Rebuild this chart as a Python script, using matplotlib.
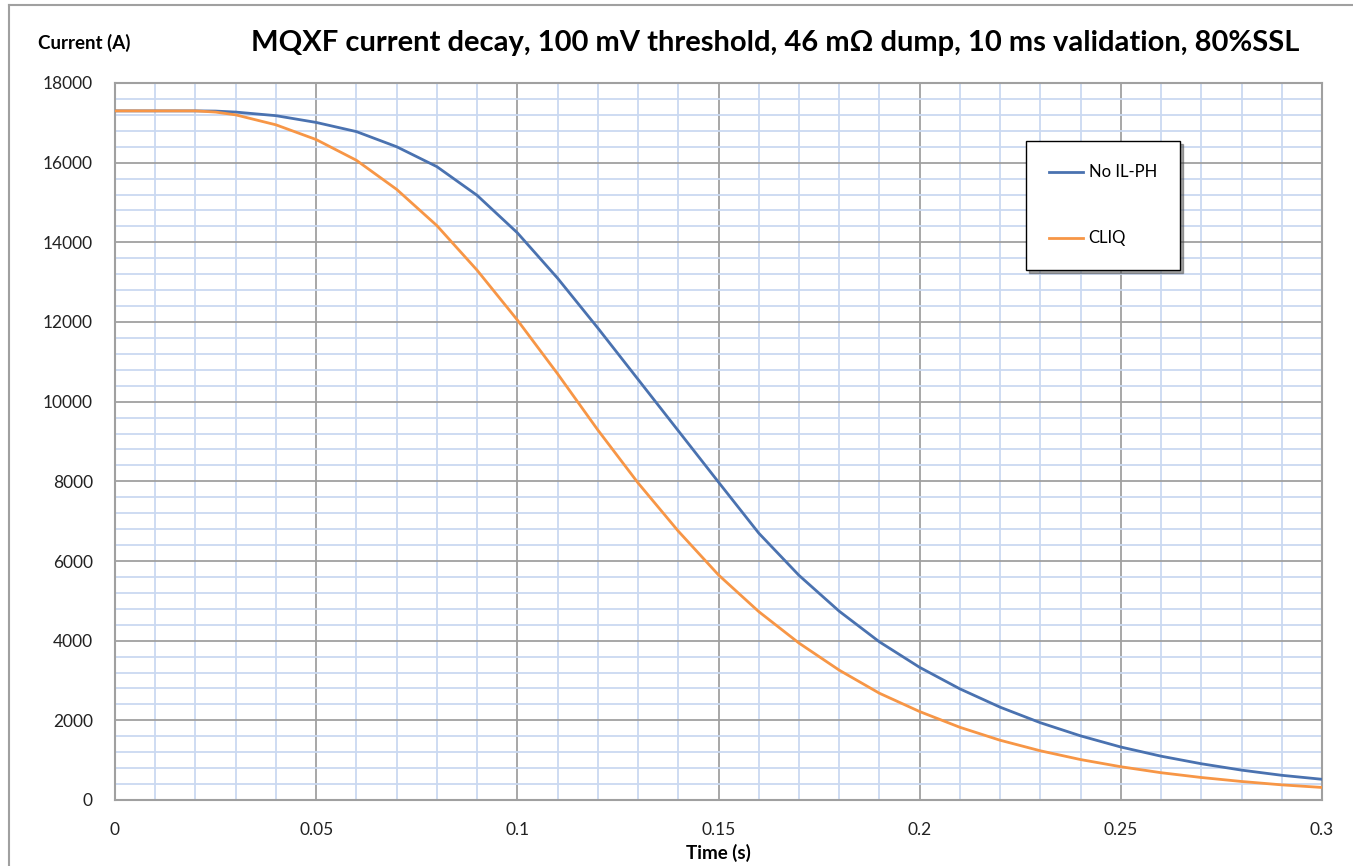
import numpy as np
import matplotlib
matplotlib.use("Agg")
import matplotlib.pyplot as plt
from matplotlib.ticker import MultipleLocator
from matplotlib.lines import Line2D

plt.rcParams['font.family'] = ['Lato', 'DejaVu Sans']

# values
time_s = [0.00, 0.01, 0.02, 0.025, 0.03, 0.04, 0.05, 0.06, 0.07, 0.08, 0.09,
          0.10, 0.11, 0.12, 0.13, 0.14, 0.15, 0.16, 0.17, 0.18, 0.19,
          0.20, 0.21, 0.22, 0.23, 0.24, 0.25, 0.26, 0.27, 0.28, 0.29, 0.30]
no_il_ph = [17300, 17300, 17300, 17295, 17270, 17180, 17010, 16780, 16400, 15900, 15180,
            14240, 13100, 11850, 10560, 9270, 7980, 6700, 5640, 4740, 3970,
            3330, 2790, 2330, 1940, 1610, 1330, 1100, 910, 750, 620, 520]
cliq = [17300, 17300, 17300, 17270, 17200, 16950, 16580, 16060, 15330, 14420, 13300,
        12050, 10700, 9290, 7960, 6750, 5650, 4730, 3940, 3260, 2680,
        2220, 1825, 1500, 1235, 1015, 835, 685, 565, 465, 380, 315]
x_ticks = [0, 0.05, 0.1, 0.15, 0.2, 0.25, 0.3]
x_labels = ['0', '0.05', '0.1', '0.15', '0.2', '0.25', '0.3']
y_ticks = [0, 2000, 4000, 6000, 8000, 10000, 12000, 14000, 16000, 18000]

blue = '#4a72b0'
orange = '#f79646'

fig = plt.figure(figsize=(13.53, 8.66), dpi=100)
ax = fig.add_axes([115 / 1353, 1 - 800 / 866, 1207 / 1353, 717 / 866])

ax.plot(time_s, no_il_ph, color=blue, lw=2.0, label='No IL-PH', zorder=3)
ax.plot(time_s, cliq, color=orange, lw=2.0, label='CLIQ', zorder=3)

ax.set_xlim(0, 0.3)
ax.set_ylim(0, 18000)
ax.set_xticks(x_ticks)
ax.set_xticklabels(x_labels)
ax.set_yticks(y_ticks)
ax.xaxis.set_minor_locator(MultipleLocator(0.01))
ax.yaxis.set_minor_locator(MultipleLocator(400))
ax.grid(which='minor', color='#cad9f1', lw=1.3, zorder=0)
ax.grid(which='major', color='#a0a0a0', lw=1.3, zorder=1)
ax.set_axisbelow(True)
ax.tick_params(which='both', length=0)
ax.tick_params(axis='x', pad=16, labelsize=12.5, colors='#222222')
ax.tick_params(axis='y', pad=16, labelsize=12.5, colors='#222222')
for s in ax.spines.values():
    s.set_color('#a0a0a0')
    s.set_linewidth(1.5)

leg = ax.legend(loc='upper left', bbox_to_anchor=(0.7548, 0.919),
                borderaxespad=0, fontsize=12, frameon=True, fancybox=False,
                shadow=True, edgecolor='black', labelspacing=3.0, borderpad=1.4,
                handlelength=2.0, handletextpad=0.35)
leg.get_frame().set_linewidth(1.0)

fig.text(0.573, 0.950, 'MQXF current decay, 100 mV threshold, 46 m\u03a9 dump, 10 ms validation, 80%SSL',
         ha='center', va='center', fontsize=21, fontweight='bold')
fig.text(38 / 1353, 0.950, 'Current (A)', ha='left', va='center',
         fontsize=13.5, fontweight='bold')
fig.text(718 / 1353, 1 - 853 / 866, 'Time (s)', ha='center', va='center',
         fontsize=13.5, fontweight='bold')

# outer chart frame (only top and left edges visible)
fig.add_artist(Line2D([9 / 1353, 9 / 1353], [0, 1 - 5 / 866], color='#a0a0a0', lw=1.5))
fig.add_artist(Line2D([9 / 1353, 1], [1 - 5 / 866, 1 - 5 / 866], color='#a0a0a0', lw=1.5))

fig.savefig('out.png', dpi=100)
